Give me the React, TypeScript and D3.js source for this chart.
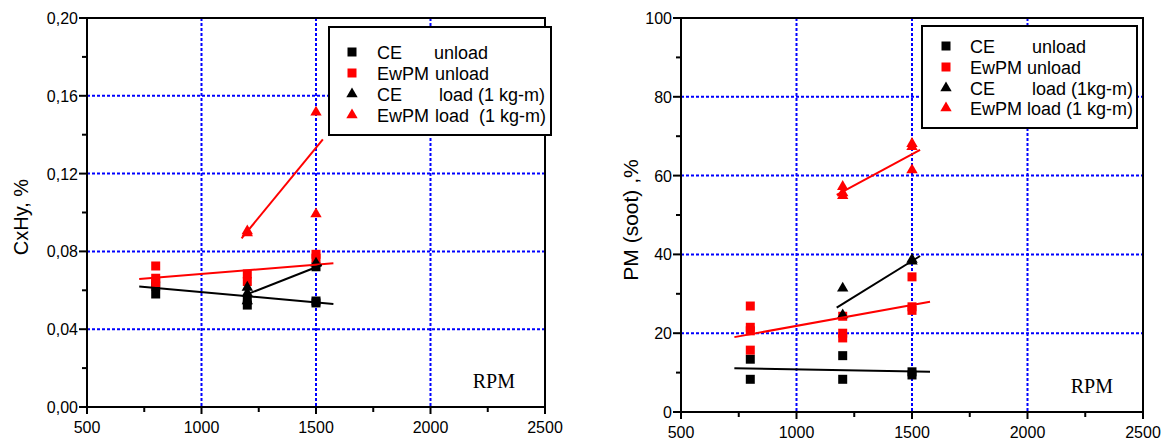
import React from 'react';
import * as d3 from 'd3';

const W = 1174;
const H = 441;

// x axis (engine speed)
const rpmTicks = [500, 1000, 1500, 2000, 2500];
const hcTicks = [0, 0.04, 0.08, 0.12, 0.16, 0.2];
const pmTicks = [0, 20, 40, 60, 80, 100];

// CxHy, %  -> [rpm, value]
const hcCeUnload = [[800, 0.0622], [800, 0.0581], [1200, 0.055], [1200, 0.0524], [1500, 0.0721], [1500, 0.0545], [1500, 0.0535]];
const hcEwpmUnload = [[800, 0.0725], [800, 0.0662], [800, 0.064], [1200, 0.0684], [1200, 0.0645], [1500, 0.0785], [1500, 0.0765]];
const hcCeLoad = [[1200, 0.0615], [1200, 0.0585], [1200, 0.0545], [1500, 0.0739]];
const hcEwpmLoad = [[1200, 0.0905], [1200, 0.0895], [1500, 0.1515], [1500, 0.0992]];
// fitted lines (end points)
const hcCeUnloadFit = [[728, 0.0619], [1576, 0.053]];
const hcEwpmUnloadFit = [[728, 0.0658], [1576, 0.0739]];
const hcCeLoadFit = [[1200, 0.058], [1525, 0.073]];
const hcEwpmLoadFit = [[1175, 0.0867], [1530, 0.1376]];

// PM (soot), %
const pmCeUnload = [[800, 13.4], [800, 8.3], [1200, 14.3], [1200, 8.3], [1500, 10.2], [1500, 9.4]];
const pmEwpmUnload = [[800, 26.9], [800, 21.5], [800, 20.6], [800, 15.7], [1200, 24.3], [1200, 20.0], [1200, 18.8], [1500, 34.3], [1500, 26.7], [1500, 25.8]];
const pmCeLoad = [[1200, 31.4], [1200, 24.6], [1500, 38.7], [1500, 38.3]];
const pmEwpmLoad = [[1200, 57.2], [1200, 55.6], [1200, 54.9], [1500, 68.1], [1500, 67.3], [1500, 61.4]];
const pmCeUnloadFit = [[731, 11.1], [1578, 10.2]];
const pmEwpmUnloadFit = [[731, 19.0], [1578, 28.0]];
const pmCeLoadFit = [[1174, 26.5], [1535, 39.6]];
const pmEwpmLoadFit = [[1174, 55.1], [1535, 66.5]];

// legend text: engine name, condition
const hcLegend = [['CE', 'unload'], ['EwPM', 'unload'], ['CE', 'load (1 kg-m)'], ['EwPM', 'load  (1 kg-m)']];
const pmLegend = [['CE', 'unload'], ['EwPM', 'unload'], ['CE', 'load (1kg-m)'], ['EwPM', 'load (1 kg-m)']];

const commaLocale = d3.formatLocale({ decimal: ',', thousands: ' ', grouping: [3], currency: ['', ''] });

const font = 'Liberation Sans, Arial, sans-serif';

const seriesStyle = [
  { color: '#000', shape: d3.symbolSquare, size: 81 },
  { color: '#ff0000', shape: d3.symbolSquare, size: 81 },
  { color: '#000', shape: d3.symbolTriangle, size: 56 },
  { color: '#ff0000', shape: d3.symbolTriangle, size: 56 },
];

const panels = [
  {
    box: { x0: 87, x1: 545, y0: 18, y1: 407 },
    yDomain: [0, 0.2], yTicks: hcTicks, yMinor: 0.02, fmt: commaLocale.format('.2f'),
    title: 'CxHy, %', titleX: 21, titleY: 217, titleSize: 20,
    points: [hcCeUnload, hcEwpmUnload, hcCeLoad, hcEwpmLoad],
    fits: [hcCeUnloadFit, hcEwpmUnloadFit, hcCeLoadFit, hcEwpmLoadFit],
    legend: hcLegend,
    legendBox: { x0: 329, x1: 551, y0: 27, y1: 135 },
    markX: 352, rowY: [52, 73, 94, 115],
    cols: [[25, 82], [25, 83], [25, 87], [25, 83]],
  },
  {
    box: { x0: 681, x1: 1143, y0: 18, y1: 412 },
    yDomain: [0, 100], yTicks: pmTicks, yMinor: 10, fmt: d3.format('d'),
    title: 'PM (soot) ,%', titleX: 630, titleY: 220, titleSize: 21,
    points: [pmCeUnload, pmEwpmUnload, pmCeLoad, pmEwpmLoad],
    fits: [pmCeUnloadFit, pmEwpmUnloadFit, pmCeLoadFit, pmEwpmLoadFit],
    legend: pmLegend,
    legendBox: { x0: 922, x1: 1137, y0: 26, y1: 128 },
    markX: 946, rowY: [46, 67, 88, 108],
    cols: [[24, 86], [24, 81], [24, 86], [24, 81]],
  },
];

function Panel({ p }) {
  const { box } = p;
  const x = d3.scaleLinear().domain([500, 2500]).range([box.x0, box.x1]);
  const y = d3.scaleLinear().domain(p.yDomain).range([box.y1, box.y0]);
  const line = d3.line().x((d) => x(d[0])).y((d) => y(d[1]));
  const xMinor = d3.range(750, 2500, 500);
  const yMinor = d3.range(p.yDomain[0] + p.yMinor, p.yDomain[1], p.yMinor * 2);
  const inner = (t, dom) => t > dom[0] && t < dom[1];

  return (
    <g>
      {/* grid */}
      {rpmTicks.filter((t) => inner(t, [500, 2500])).map((t) => (
        <line key={'gx' + t} x1={x(t)} x2={x(t)} y1={box.y0} y2={box.y1}
          stroke="#0000ff" strokeWidth={2} strokeDasharray="3,2" />
      ))}
      {p.yTicks.filter((t) => inner(t, p.yDomain)).map((t) => (
        <line key={'gy' + t} x1={box.x0} x2={box.x1} y1={y(t)} y2={y(t)}
          stroke="#0000ff" strokeWidth={2} strokeDasharray="3,2" />
      ))}

      {/* frame */}
      <rect x={box.x0} y={box.y0} width={box.x1 - box.x0} height={box.y1 - box.y0}
        fill="none" stroke="#000" strokeWidth={2} />

      {/* x ticks */}
      {rpmTicks.map((t) => (
        <g key={'xt' + t}>
          <line x1={x(t)} x2={x(t)} y1={box.y1} y2={box.y1 + 7} stroke="#000" strokeWidth={2} />
          <text x={x(t)} y={box.y1 + 26} textAnchor="middle" fontSize={16} fontFamily={font}>{t}</text>
        </g>
      ))}
      {xMinor.map((t) => (
        <line key={'xm' + t} x1={x(t)} x2={x(t)} y1={box.y1} y2={box.y1 + 5} stroke="#000" strokeWidth={2} />
      ))}

      {/* y ticks */}
      {p.yTicks.map((t) => (
        <g key={'yt' + t}>
          <line x1={box.x0 - 8} x2={box.x0} y1={y(t)} y2={y(t)} stroke="#000" strokeWidth={2} />
          <text x={box.x0 - 9} y={y(t) + 6} textAnchor="end" fontSize={16} fontFamily={font}>{p.fmt(t)}</text>
        </g>
      ))}
      {yMinor.map((t) => (
        <line key={'ym' + t} x1={box.x0 - 5} x2={box.x0} y1={y(t)} y2={y(t)} stroke="#000" strokeWidth={2} />
      ))}

      <text transform={`translate(${p.titleX},${p.titleY}) rotate(-90)`} textAnchor="middle"
        dominantBaseline="central" fontSize={p.titleSize} fontFamily={font}>{p.title}</text>
      <text x={box.x1 - 30} y={box.y1 - 19} textAnchor="end" fontSize={20}
        fontFamily="Liberation Serif, Times New Roman, serif">RPM</text>

      {/* markers */}
      {p.points.map((pts, i) => (
        <g key={'s' + i} fill={seriesStyle[i].color}>
          {pts.map((d, j) => (
            <path key={j} transform={`translate(${x(d[0])},${y(d[1])})`}
              d={d3.symbol(seriesStyle[i].shape, seriesStyle[i].size)()} />
          ))}
        </g>
      ))}
      {/* fit lines */}
      {p.fits.map((f, i) => (
        <path key={'f' + i} d={line(f)} fill="none" stroke={seriesStyle[i].color} strokeWidth={2} />
      ))}

      {/* legend */}
      <rect x={p.legendBox.x0} y={p.legendBox.y0} width={p.legendBox.x1 - p.legendBox.x0}
        height={p.legendBox.y1 - p.legendBox.y0} fill="#fff" stroke="#000" strokeWidth={2} />
      {p.legend.map((parts, i) => (
        <g key={'l' + i}>
          <path transform={`translate(${p.markX},${p.rowY[i]})`} fill={seriesStyle[i].color}
            d={d3.symbol(seriesStyle[i].shape, seriesStyle[i].size)()} />
          {parts.map((s, k) => (
            <text key={k} x={p.markX + p.cols[i][k]} y={p.rowY[i] + 7} fontSize={18}
              fontFamily={font} style={{ whiteSpace: 'pre' }}>{s}</text>
          ))}
        </g>
      ))}
    </g>
  );
}

export default function App() {
  return (
    <svg width={W} height={H} style={{ position: 'absolute', left: 0, top: 0, background: '#fff' }}>
      {panels.map((p, i) => <Panel key={i} p={p} />)}
    </svg>
  );
}
